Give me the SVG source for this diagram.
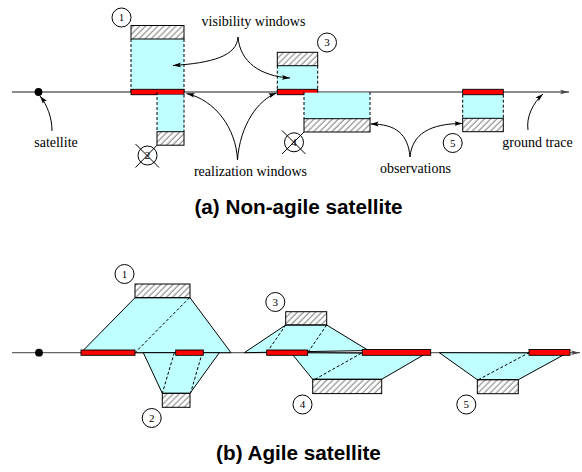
<svg xmlns="http://www.w3.org/2000/svg" width="582" height="472" viewBox="0 0 582 472">
<defs>
<pattern id="hatch" patternUnits="userSpaceOnUse" width="4.3" height="6" patternTransform="rotate(45)">
<line x1="1" y1="0" x2="1" y2="6" stroke="#333" stroke-width="0.7"/>
</pattern>
<marker id="ah" markerUnits="userSpaceOnUse" markerWidth="9" markerHeight="6" refX="8" refY="3" orient="auto">
<path d="M0,0.6 L8,3 L0,5.4 L1.5,3 z" fill="#000"/>
</marker>
<marker id="ahg" markerUnits="userSpaceOnUse" markerWidth="10" markerHeight="6" refX="9" refY="3" orient="auto">
<path d="M0,0.8 L9,3 L0,5.2 L2,3 z" fill="#444"/>
</marker>
</defs>
<style>
.gl{stroke:#666;stroke-width:1.3;fill:none}
.cy{fill:#c0ffff;stroke:none}
.cyp{fill:#c0ffff;stroke:#000;stroke-width:1}
.hb{fill:url(#hatch);stroke:#000;stroke-width:1}
.rb{fill:#f00;stroke:#000;stroke-width:0.9}
.ds{stroke:#000;stroke-width:1;stroke-dasharray:3,2;fill:none}
.cr{fill:#fff;stroke:#000;stroke-width:1}
.xl{stroke:#000;stroke-width:1}
.num{font-family:"Liberation Serif",serif;font-size:11px;text-anchor:middle;fill:#000}
.lbl{font-family:"Liberation Serif",serif;font-size:14px;text-anchor:middle;fill:#000}
.ttl{font-family:"Liberation Sans",Arial,sans-serif;font-weight:bold;font-size:20.7px;text-anchor:middle;fill:#000}
.cv{stroke:#000;stroke-width:1;fill:none;marker-end:url(#ah)}
</style>

<!-- (a) Non-agile -->
<g id="ground-a">
<line class="gl" x1="12" y1="92" x2="569" y2="92" marker-end="url(#ahg)"/>
<circle cx="38.5" cy="92" r="3.9" fill="#000"/>
</g>

<g id="a-window1">
<rect class="cy" x="131" y="39" width="53" height="53"/>
<rect class="hb" x="131" y="25.5" width="53" height="13.5"/>
<line class="ds" x1="131" y1="39" x2="131" y2="92"/>
<line class="ds" x1="184" y1="39" x2="184" y2="92"/>
<rect class="rb" x="131" y="89.3" width="53" height="5.4"/>
<circle class="cr" cx="121.5" cy="17.5" r="9.5"/>
<text class="num" x="121.5" y="21.3">1</text>
</g>

<g id="a-window2">
<rect class="cy" x="157" y="94.7" width="27" height="37"/>
<line class="ds" x1="157" y1="92" x2="157" y2="131.7"/>
<line class="ds" x1="184" y1="94.7" x2="184" y2="131.7"/>
<rect class="hb" x="157" y="131.7" width="27" height="13.5"/>
<circle class="cr" cx="147.5" cy="155.5" r="9.5"/>
<text class="num" x="147.5" y="159.3">2</text>
<line class="xl" x1="135.5" y1="144" x2="159" y2="167.5"/>
<line class="xl" x1="135.5" y1="167.5" x2="157" y2="145.2"/>
</g>

<g id="a-window3">
<rect class="cy" x="277.3" y="65.7" width="40.4" height="26.3"/>
<rect class="hb" x="277.3" y="52.3" width="40.4" height="13.4"/>
<line class="ds" x1="277.3" y1="65.7" x2="277.3" y2="92"/>
<line class="ds" x1="317.7" y1="65.7" x2="317.7" y2="92"/>
<rect class="rb" x="277.3" y="89.3" width="40.4" height="5.4"/>
<circle class="cr" cx="327" cy="42.5" r="9.5"/>
<text class="num" x="327" y="46.3">3</text>
</g>

<g id="a-window4">
<rect class="cy" x="304" y="92.7" width="66" height="26"/>
<line class="ds" x1="304" y1="92" x2="304" y2="118.7"/>
<line class="ds" x1="370" y1="92" x2="370" y2="118.7"/>
<rect class="hb" x="304" y="118.7" width="66" height="13.3"/>
<circle class="cr" cx="294" cy="142.3" r="9.5"/>
<text class="num" x="294" y="146.1">4</text>
<line class="xl" x1="282" y1="130.5" x2="305.5" y2="154"/>
<line class="xl" x1="282" y1="154" x2="304" y2="132"/>
</g>

<g id="a-window5">
<rect class="cy" x="462.7" y="94.7" width="40.6" height="23.6"/>
<line class="ds" x1="462.7" y1="94.7" x2="462.7" y2="118.3"/>
<line class="ds" x1="503.3" y1="94.7" x2="503.3" y2="118.3"/>
<rect class="hb" x="462.7" y="118.3" width="40.6" height="13.4"/>
<rect class="rb" x="462.7" y="89.3" width="40.6" height="5.4"/>
<circle class="cr" cx="452.7" cy="143" r="9.5"/>
<text class="num" x="452.7" y="146.8">5</text>
</g>

<g id="labels-a">
<text class="lbl" x="253.5" y="26">visibility windows</text>
<text class="lbl" x="250.5" y="176">realization windows</text>
<text class="lbl" x="415.5" y="173">observations</text>
<text class="lbl" x="56" y="147">satellite</text>
<text class="lbl" x="537.5" y="147">ground trace</text>
<text class="ttl" x="298.5" y="214">(a) Non-agile satellite</text>
</g>

<g id="connectors">
<path class="cv" d="M52,131 C52,117 47,105 40,96"/>
<path class="cv" d="M528,130 C526,117 533,103 543,94"/>
<path class="cv" d="M238,37 C237,56 212,63 173,65.5"/>
<path class="cv" d="M238,37 C240,62 260,76 290,78"/>
<path class="cv" d="M237.5,160 C236,128 215,100 186.5,93.5"/>
<path class="cv" d="M237.5,160 C240,125 258,100 276.5,93"/>
<path class="cv" d="M410,157 C408,134 396,124 370.5,124"/>
<path class="cv" d="M410,157 C412,134 430,123.5 462.5,123.5"/>
</g>

<!-- (b) Agile -->
<g id="ground-b">
<line class="gl" x1="12" y1="352.7" x2="580" y2="352.7" marker-end="url(#ahg)"/>
</g>

<g id="b-window1">
<polygon class="cyp" points="81,352.7 135,297.7 190,297.7 231,352.7"/>
<rect class="hb" x="135" y="284" width="55" height="13.7"/>
</g>

<g id="b-window2">
<polygon class="cyp" points="143.3,352.7 162.3,393.3 190,393.3 219.3,352.7"/>
<rect class="hb" x="162.3" y="393.3" width="27.7" height="14"/>
<line class="ds" x1="174.3" y1="352.7" x2="162.3" y2="393.3"/>
<line class="ds" x1="202.3" y1="352.7" x2="190.5" y2="393.3"/>
<circle class="cr" cx="151.7" cy="418" r="9.5"/>
<text class="num" x="151.7" y="421.8">2</text>
</g>

<g id="b-window1-top">
<line class="ds" x1="189.5" y1="297.7" x2="135" y2="352.7"/>
<rect class="rb" x="81" y="350" width="54" height="5.3"/>
<rect class="rb" x="175.7" y="350" width="27.6" height="5.3"/>
<circle class="cr" cx="124.5" cy="274" r="9.5"/>
<text class="num" x="124.5" y="277.8">1</text>
</g>

<g id="b-window3">
<polygon class="cyp" points="244.3,352.7 285.7,325 326.7,325 368.5,350.5"/>
<rect class="hb" x="285.7" y="311.7" width="41" height="13.3"/>
<circle class="cr" cx="275.3" cy="302" r="9.5"/>
<text class="num" x="275.3" y="305.8">3</text>
</g>

<g id="b-window4">
<polygon class="cyp" points="291,352.7 312.7,379.3 381.7,379.3 426,353.5"/>
<rect class="hb" x="312.7" y="379.3" width="69" height="14.3"/>
<line class="ds" x1="315" y1="379.3" x2="362.3" y2="352.7"/>
<line class="ds" x1="285.7" y1="325" x2="266.7" y2="352.7"/>
<line class="ds" x1="326.7" y1="325" x2="307.7" y2="352.7"/>
<rect class="rb" x="266.7" y="350" width="41" height="5.3"/>
<rect class="rb" x="362.3" y="349.5" width="68.4" height="5.8"/>
<circle class="cr" cx="302.5" cy="404.5" r="9.5"/>
<text class="num" x="302.5" y="408.3">4</text>
</g>

<g id="b-window5">
<polygon class="cyp" points="439.3,352.7 477.3,379.7 518.3,379.7 567,353"/>
<rect class="hb" x="477.3" y="379.7" width="41" height="14"/>
<line class="ds" x1="478.3" y1="379.7" x2="529" y2="352.7"/>
<rect class="rb" x="529" y="349.5" width="41" height="5.8"/>
<circle class="cr" cx="466.3" cy="404.5" r="9.5"/>
<text class="num" x="466.3" y="408.3">5</text>
</g>

<g id="satellite-b">
<circle cx="39" cy="352.7" r="3.9" fill="#000"/>
</g>

<g id="labels-b">
<text class="ttl" x="298.5" y="460">(b) Agile satellite</text>
</g>
</svg>
